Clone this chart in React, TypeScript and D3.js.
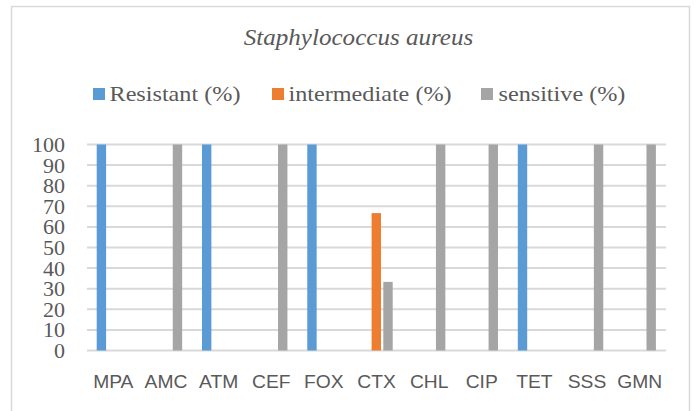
import React from "react";
import * as d3 from "d3";

const categories = ["MPA", "AMC", "ATM", "CEF", "FOX", "CTX", "CHL", "CIP", "TET", "SSS", "GMN"];
const resistant = [100, 0, 100, 0, 100, 0, 0, 0, 100, 0, 0];
const intermediate = [0, 0, 0, 0, 0, 66.7, 0, 0, 0, 0, 0];
const sensitive = [0, 100, 0, 100, 0, 33.3, 100, 100, 0, 100, 100];
const seriesNames = ["Resistant (%)", "intermediate (%)", "sensitive (%)"];
const seriesColors = ["#5B9BD5", "#ED7D31", "#A5A5A5"];
const yTicks = [0, 10, 20, 30, 40, 50, 60, 70, 80, 90, 100];

export default function App() {
  const W = 699, H = 411;
  const left = 87, right = 666, top = 144.5, bottom = 350.5;
  const x = d3.scaleBand<string>().domain(categories).range([left, right]).paddingInner(0).paddingOuter(0);
  const y = d3.scaleLinear().domain([0, 100]).range([bottom, top]);
  const series = [resistant, intermediate, sensitive];
  const bw = x.bandwidth();
  const barW = 9.4;
  const offsets = [9.7, 21.4, 33.1].map((o) => (o / 52.6) * bw);
  const serif = "'Liberation Serif', 'Times New Roman', serif";
  const sans = "'Liberation Sans', Arial, sans-serif";

  const legendItems = [
    { sq: 93, tx: 109.5 },
    { sq: 272, tx: 288.5 },
    { sq: 481, tx: 498.5 },
  ];

  return (
    <svg width={W} height={H} style={{ position: "absolute", left: 0, top: 0, background: "#fff" }}>
      <rect x={11.5} y={6.5} width={678} height={420} fill="#fff" stroke="#D9D9D9" strokeWidth={1.5} />
      <text
        transform={`translate(358.5,45) scale(1.09,1)`}
        textAnchor="middle"
        fontFamily={serif}
        fontStyle="italic"
        fontSize={23}
        fill="#595959"
      >
        Staphylococcus aureus
      </text>
      {seriesNames.map((n, i) => (
        <g key={n}>
          <rect x={legendItems[i].sq} y={88} width={12} height={12} fill={seriesColors[i]} />
          <text
            transform={`translate(${legendItems[i].tx},101) scale(1.1,1)`}
            fontFamily={serif}
            fontSize={22}
            fill="#595959"
          >
            {n}
          </text>
        </g>
      ))}
      {yTicks.map((t) => (
        <g key={t}>
          <line x1={left} x2={right} y1={y(t)} y2={y(t)} stroke="#D9D9D9" strokeWidth={2} />
          <text x={65} y={y(t) + 7.5} textAnchor="end" fontFamily={serif} fontSize={22} fill="#595959">
            {t}
          </text>
        </g>
      ))}
      {series.map((vals, si) =>
        vals.map((v, ci) =>
          v > 0 ? (
            <rect
              key={`${si}-${ci}`}
              x={(x(categories[ci]) as number) + offsets[si]}
              y={y(v)}
              width={barW}
              height={y(0) - y(v)}
              fill={seriesColors[si]}
            />
          ) : null
        )
      )}
      {categories.map((c) => (
        <text
          key={c}
          transform={`translate(${(x(c) as number) + bw / 2},388) scale(1.07,1)`}
          textAnchor="middle"
          fontFamily={sans}
          fontSize={18}
          fill="#595959"
        >
          {c}
        </text>
      ))}
    </svg>
  );
}
